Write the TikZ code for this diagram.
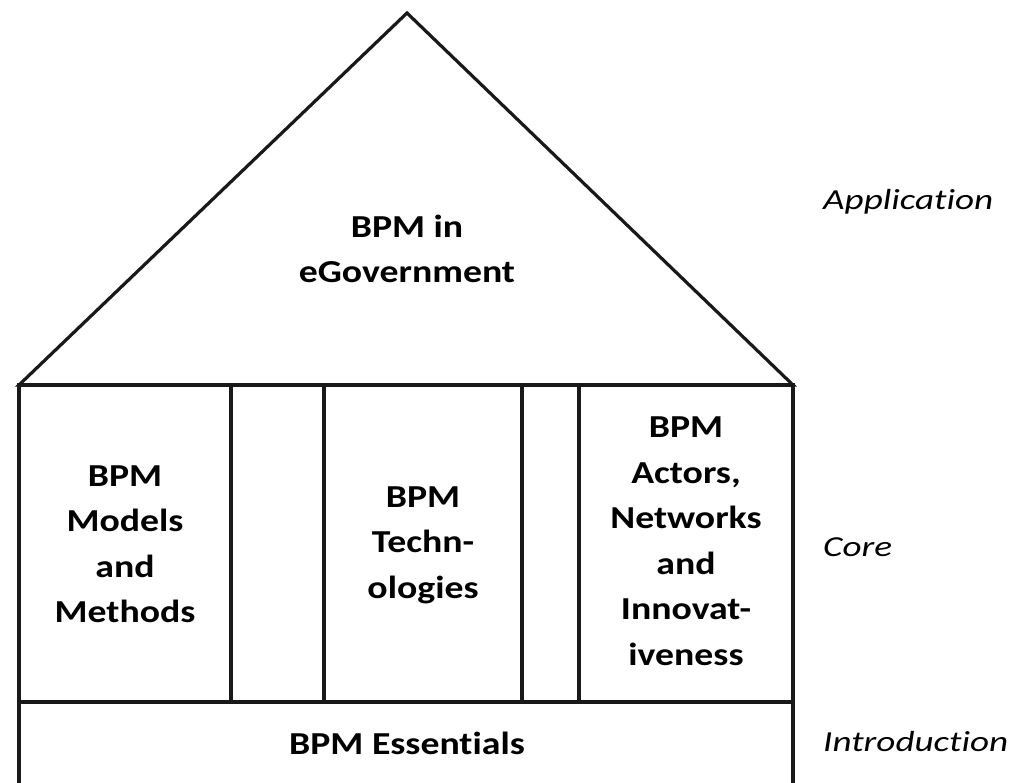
\documentclass[tikz,border=0pt]{standalone}
\usepackage{fontspec}
\setmainfont[Ligatures=NoCommon]{Carlito}
\newfontfamily\boxfont[Ligatures=NoCommon,FakeStretch=1.18]{Carlito}
\newfontfamily\levelfont[Ligatures=NoCommon,FakeStretch=1.28]{Carlito}
\begin{document}
\begin{tikzpicture}[x=1pt,y=-1pt,
  wall/.style={draw=black!90, line width=3.2pt, line join=miter},
  lbl/.style={align=center, font=\boxfont\fontsize{32}{45.5}\selectfont\bfseries, inner sep=0pt},
  lvl/.style={anchor=west, font=\levelfont\fontsize{29}{34}\selectfont\itshape, inner sep=0pt}]
\useasboundingbox (0,0) rectangle (1015,783);
\clip (0,0) rectangle (1015,783);
% roof
\coordinate (rl) at (19,385);
\coordinate (rr) at (793,385);
\coordinate (apex) at (407,13);
\draw[wall] (rl) -- (apex) -- (rr) -- cycle;
% pillars area
\draw[wall] (19,385) rectangle (793,702);
\draw[wall] (231,385) -- (231,702);
\draw[wall] (324,385) -- (324,702);
\draw[wall] (522,385) -- (522,702);
\draw[wall] (579,385) -- (579,702);
% base
\draw[wall] (19,702) rectangle (793,800);
% texts
\node[lbl] (roof) at (407,249) {BPM in\\eGovernment};
\node[lbl] (mm) at (125,544) {BPM\\Models\\and\\Methods};
\node[lbl] (tech) at (423,545) {BPM\\Techn-\\ologies};
\node[lbl] (act) at (686,541) {BPM\\Actors,\\Networks\\and\\Innovat-\\iveness};
\node[lbl] (ess) at (407,743) {BPM Essentials};
\node[lvl] (app) at (823,202) {Application};
\node[lvl] (core) at (823,547) {Core};
\node[lvl] (intro) at (823,742) {Introduction};
\end{tikzpicture}
\end{document}
